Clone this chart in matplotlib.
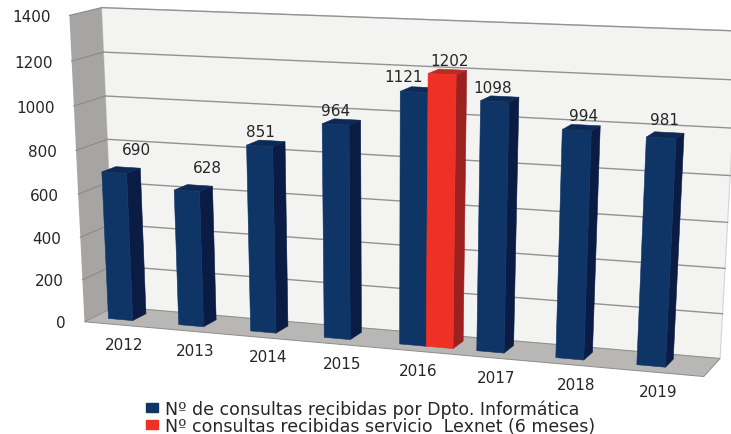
import numpy as np
import matplotlib
matplotlib.use('Agg')
import matplotlib.pyplot as plt
from matplotlib.patches import Patch

years = ['2012', '2013', '2014', '2015', '2016', '2017', '2018', '2019']
consultas = [690, 628, 851, 964, 1121, 1098, 994, 981]
lexnet_year = '2016'
lexnet = 1202
ticks = [0, 200, 400, 600, 800, 1000, 1200, 1400]
legend_labels = ['Nº de consultas recibidas por Dpto. Informática',
                 'Nº consultas recibidas servicio  Lexnet (6 meses)']

vmax = 1400.0
W, H = 731, 435

# corners of the 3d box: (x, value, depth) -> pixel, used to fit the camera
# the left corners count more, the wall edges are easy to see there
box = [((0, 0, 0), (86, 323)), ((0, 1, 0), (68, 16)),
       ((0, 0, 0), (86, 323)), ((0, 1, 0), (68, 16)),
       ((0, 0, 0), (86, 323)), ((0, 1, 0), (68, 16)),
       ((0, 0, 1), (110, 307)), ((0, 1, 1), (103, 9)),
       ((0, 1, 1), (103, 9)), ((0, 1, 1), (103, 9)),
       ((1, 0, 1), (721, 359)), ((1, 1, 1), (738, 32)),
       ((1, 0, 0), (703, 378))]


def fit_camera(pts):
    rows = []
    for (x, y, z), (u, v) in pts:
        u, v = u / 700.0, v / 700.0
        rows.append([x, y, z, 1, 0, 0, 0, 0, -u * x, -u * y, -u * z, -u])
        rows.append([0, 0, 0, 0, x, y, z, 1, -v * x, -v * y, -v * z, -v])
    s = np.linalg.svd(np.array(rows, dtype=float))[2]
    return s[-1].reshape(3, 4)


cam = fit_camera(box)


def proj(x, val, z):
    p = cam @ np.array([x, val / vmax, z, 1.0])
    return p[0] / p[2] * 700.0, p[1] / p[2] * 700.0


def quad(ax, pts, color, zorder=2, ec=None, lw=0.0):
    ax.fill(*zip(*pts), color=color, ec=ec if ec else color, lw=lw, zorder=zorder)


def bar3d(ax, x0, x1, val, cols, zorder, z0=0.3, z1=0.75):
    front = [proj(x0, 0, z0), proj(x1, 0, z0), proj(x1, val, z0), proj(x0, val, z0)]
    side = [proj(x1, 0, z0), proj(x1, 0, z1), proj(x1, val, z1), proj(x1, val, z0)]
    top = [proj(x0, val, z0), proj(x1, val, z0), proj(x1, val, z1), proj(x0, val, z1)]
    quad(ax, side, cols[1], zorder, lw=0.4)
    quad(ax, top, cols[2], zorder, lw=0.4)
    quad(ax, front, cols[0], zorder + 0.1, lw=0.4)


fig = plt.figure(figsize=(W / 100, H / 100), dpi=100)
ax = fig.add_axes([0, 0, 1, 1])
ax.set_xlim(0, W)
ax.set_ylim(H, 0)
ax.axis('off')

# walls and floor
quad(ax, [proj(0, 0, 1), proj(1, 0, 1), proj(1, vmax, 1), proj(0, vmax, 1)], '#f3f3f2', 1,
     ec='#d4d4d2', lw=0.8)
quad(ax, [proj(0, 0, 0), proj(0, 0, 1), proj(0, vmax, 1), proj(0, vmax, 0)], '#a6a5a3', 1)
quad(ax, [proj(0, 0, 0), proj(1, 0, 0), proj(1, 0, 1), proj(0, 0, 1)], '#b8b7b5', 1,
     ec='#8c8c8a', lw=0.7)

for t in ticks:
    if t > 0:
        a, b, c = proj(0, t, 0), proj(0, t, 1), proj(1, t, 1)
        ax.plot([a[0], b[0]], [a[1], b[1]], color='#8a8a88', lw=0.8, zorder=1.5)
        ax.plot([b[0], c[0]], [b[1], c[1]], color='#929292', lw=1.0, zorder=1.5)
    p = proj(0, t, 0)
    ax.text(p[0] - 19, p[1] + 1, str(t), ha='right', va='center', fontsize=11,
            color='#262626', zorder=5)

# bars
n = len(years)
half = 0.0215
blue = ('#0e3566', '#0a1c44', '#0c2a55')
red = ('#ee3124', '#9c2020', '#bd2a24')
label_off = [(22, -23), (21, -23), (1, -14), (0, -14), (-11, -15), (-2, -14), (7, -15), (3, -18)]

for i, (y, v) in enumerate(zip(years, consultas)):
    c = (i + 0.5) / n * 0.99 - 0.014
    bar3d(ax, c - half, c + half, v, blue, 3)
    p = proj(c, v, 0.3)
    ax.text(p[0] + label_off[i][0], p[1] + label_off[i][1], str(v), ha='center', va='center',
            fontsize=11, color='#262626', zorder=6)
    q = proj(c, 0, 0)
    ax.text(q[0] + 12.5, q[1] + 20, y, ha='center', va='center',
            fontsize=11, color='#262626', zorder=6)
    if y == lexnet_year:
        bar3d(ax, c + half, c + 3 * half, lexnet, red, 4)
        p = proj(c + 2 * half, lexnet, 0.3)
        ax.text(p[0] + 7, p[1] - 14, str(lexnet), ha='center', va='center', fontsize=11,
                color='#262626', zorder=6)

handles = [Patch(color=blue[0]), Patch(color=red[0])]
ax.legend(handles, legend_labels, loc='center', bbox_to_anchor=(371 / W, 1 - 418 / H), frameon=False,
          fontsize=12.5, labelcolor='#262626', handlelength=0.69, handleheight=0.46,
          handletextpad=0.4, labelspacing=-0.08, borderpad=0)

fig.savefig('out.png', dpi=100)
